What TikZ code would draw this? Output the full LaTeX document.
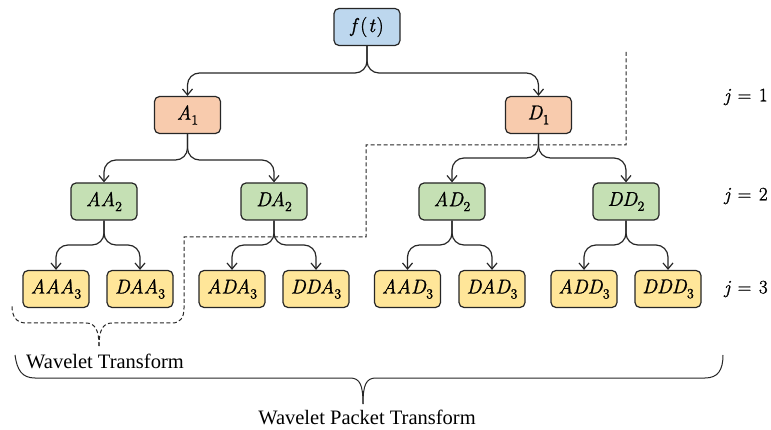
\documentclass[tikz,border=0pt]{standalone}
\usepackage{fontspec}
\newfontfamily\tnr{Liberation Serif}
\newfontfamily\lmb{Latin Modern Roman}[FakeBold=1.2]
\usetikzlibrary{arrows.meta}
\definecolor{cblue}{HTML}{BDD7EE}
\definecolor{cpeach}{HTML}{F8CBAD}
\definecolor{cgreen}{HTML}{C5E0B4}
\definecolor{cyellow}{HTML}{FFE699}
\definecolor{cline}{HTML}{262626}
\newcommand{\lsub}[1]{\raisebox{-0.25em}{\upshape\fontsize{14}{14}\selectfont #1}}
\newcommand{\lvar}[2]{{\itshape #1\/}\lsub{#2}}
\begin{document}
\begin{tikzpicture}[x=1pt,y=-1pt,
  box/.style={draw=cline, line width=1.2pt, rounded corners=5pt, minimum width=66pt, minimum height=37pt, inner sep=0pt, font=\lmb\fontsize{20}{22}\selectfont},
  lv0/.style={box, fill=cblue},
  lv1/.style={box, fill=cpeach},
  lv2/.style={box, fill=cgreen},
  lv3/.style={box, fill=cyellow},
  arr/.style={-{Straight Barb[length=6pt,width=10pt]}, draw=cline, line width=1.2pt, rounded corners=12pt},
  dsh/.style={draw=cline, dash pattern=on 4pt off 2.5pt, line width=1pt},
  brc/.style={draw=cline, line width=1pt},
  lbl/.style={font=\lmb\fontsize{19}{22}\selectfont},
  txt/.style={font=\tnr\fontsize{20.5}{24}\selectfont}]
\path[use as bounding box] (0,0) rectangle (771,430);

% nodes
\node[lv0] (f) at (367,27) {{\itshape f\/}\kern1pt(\kern1pt{\itshape t\/}\kern1pt)};
\node[lv1] (A1) at (187.5,115) {\lvar{A}{1}};
\node[lv1] (D1) at (538.5,115) {\lvar{D}{1}};
\node[lv2] (AA2) at (104,201.5) {\lvar{AA}{2}};
\node[lv2] (DA2) at (274,201.5) {\lvar{DA}{2}};
\node[lv2] (AD2) at (452,201.5) {\lvar{AD}{2}};
\node[lv2] (DD2) at (626,201.5) {\lvar{DD}{2}};
\node[lv3] (AAA3) at (56,289) {\lvar{AAA}{3}};
\node[lv3] (DAA3) at (140,289) {\lvar{DAA}{3}};
\node[lv3] (ADA3) at (232,289) {\lvar{ADA}{3}};
\node[lv3] (DDA3) at (316,289) {\lvar{DDA}{3}};
\node[lv3] (AAD3) at (407.5,289) {\lvar{AAD}{3}};
\node[lv3] (DAD3) at (492,289) {\lvar{DAD}{3}};
\node[lv3] (ADD3) at (584,289) {\lvar{ADD}{3}};
\node[lv3] (DDD3) at (668,289) {\lvar{DDD}{3}};

\node[lbl] (j1) at (746,97) {{\itshape j}\hspace{0.4em}=\hspace{0.4em}1};
\node[lbl] (j2) at (746,196) {{\itshape j}\hspace{0.4em}=\hspace{0.4em}2};
\node[lbl] (j3) at (746,289) {{\itshape j}\hspace{0.4em}=\hspace{0.4em}3};

\node[txt] (wt) at (105,361) {Wavelet Transform};
\node[txt] (wpt) at (367,417) {Wavelet Packet Transform};

% connectors
\foreach \p/\c/\m in {f/A1/73, f/D1/73,
    A1/AA2/160, A1/DA2/160, D1/AD2/158, D1/DD2/158,
    AA2/AAA3/245, AA2/DAA3/245, DA2/ADA3/245, DA2/DDA3/245,
    AD2/AAD3/245, AD2/DAD3/245, DD2/ADD3/245, DD2/DDD3/245}
  \draw[arr] (\p.south) -- (\p.south |- 0,\m) -- (\c.north |- 0,\m) -- (\c.north);

% dashed boundary with brace
\draw[dsh] (626,52) -- (626,145) -- (366,145) -- (366,237) -- (184,237) -- (184,308)
  .. controls (184,318) and (180,323) .. (172,323) -- (112,323)
  .. controls (103,323) and (99,330) .. (99,346);
\draw[dsh] (99,346) .. controls (99,330) and (95,323) .. (86,323) -- (26,323)
  .. controls (16,323) and (12,316) .. (12,306);

% big brace
\draw[brc] (15,355) .. controls (17,370) and (22,378) .. (35,378) -- (350,378)
  .. controls (360,378) and (363,385) .. (363,404);
\draw[brc] (363,404) .. controls (363,385) and (366,378) .. (376,378) -- (705,378)
  .. controls (718,378) and (723,370) .. (723,355);
\end{tikzpicture}
\end{document}
